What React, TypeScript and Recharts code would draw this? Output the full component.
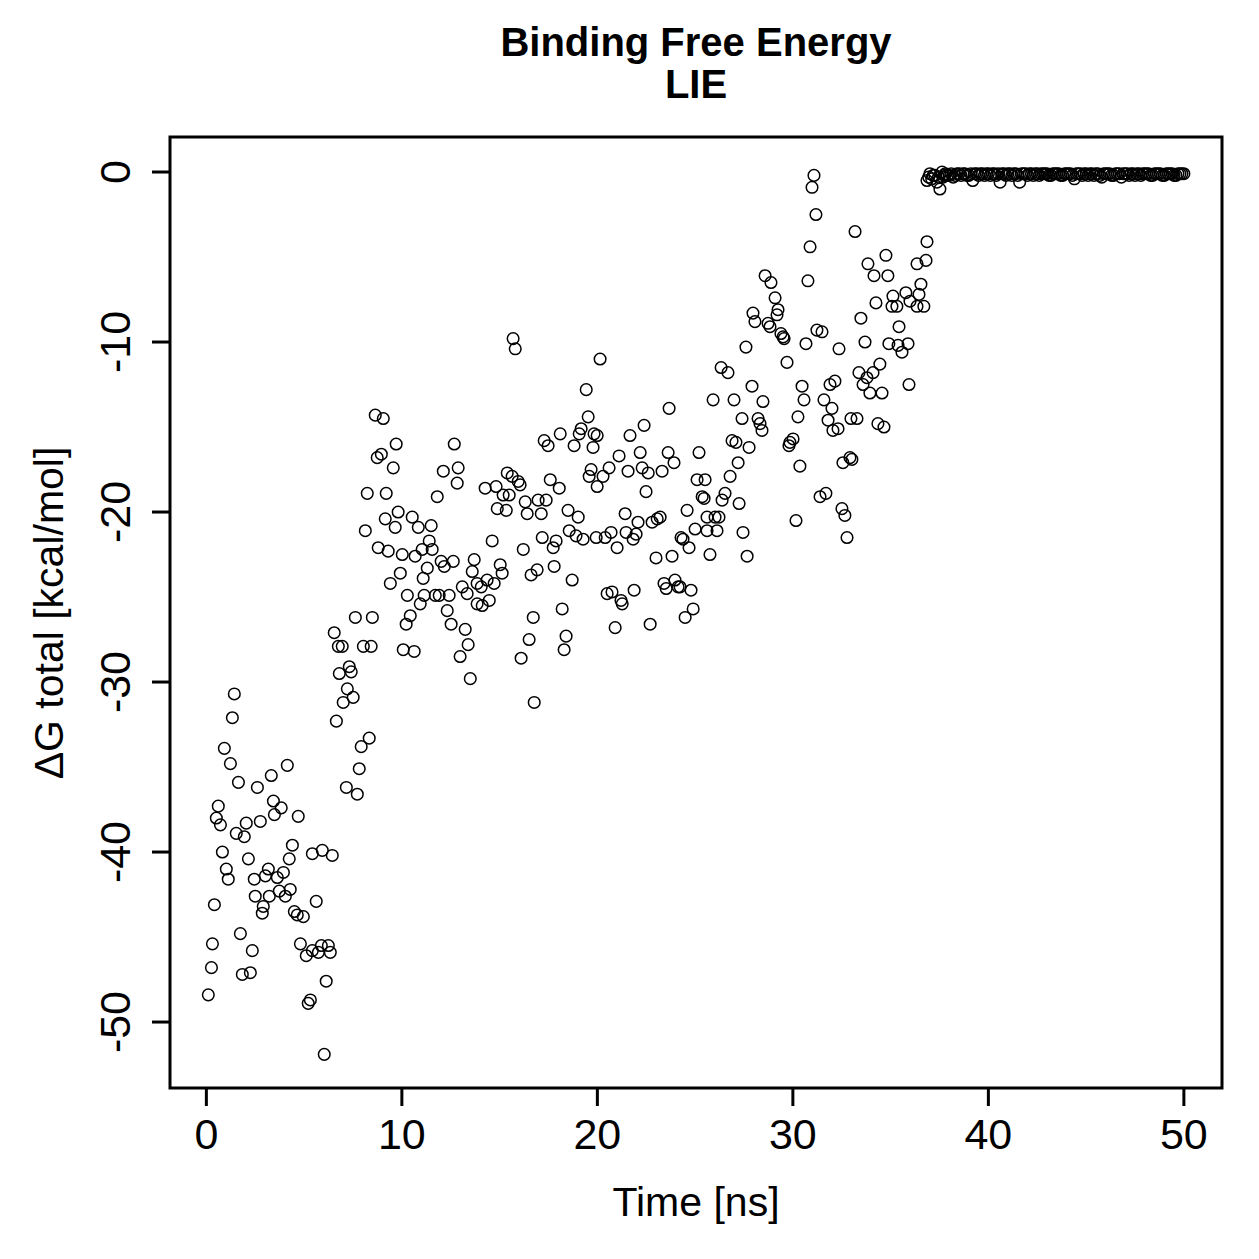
import { ReferenceArea, Scatter, ScatterChart, XAxis, YAxis } from "recharts";

const FONT = '"Liberation Sans", Arial, Helvetica, sans-serif';

const WIDTH = 1259;
const HEIGHT = 1259;

const X_TICKS = [0, 10, 20, 30, 40, 50];
const Y_TICKS = [0, -10, -20, -30, -40, -50];
// base-R style 4% padding around the data range
const X_DOMAIN: [number, number] = [-1.86, 51.95];
const Y_DOMAIN: [number, number] = [-53.88, 2.06];

// [time (ns), ΔG total (kcal/mol)]
const frames0to10: [number, number][] = [
  [1.43, -30.7], [1.33, -32.1], [0.92, -33.9], [1.23, -34.8], [1.64, -35.9], [2.61, -36.2],
  [3.32, -35.5], [4.14, -34.9], [0.61, -37.3], [3.43, -37.0], [3.83, -37.4], [3.48, -37.8],
  [4.7, -37.9], [0.51, -38.0], [0.72, -38.4], [2.04, -38.3], [2.76, -38.2], [1.53, -38.9],
  [1.94, -39.1], [0.82, -40.0], [2.15, -40.4], [4.4, -39.6], [4.24, -40.4], [5.42, -40.1],
  [5.93, -39.9], [6.44, -40.2], [1.02, -41.0], [1.12, -41.6], [3.17, -41.0], [3.02, -41.4],
  [2.45, -41.6], [3.63, -41.5], [3.94, -41.2], [3.73, -42.3], [4.29, -42.2], [2.5, -42.6],
  [3.22, -42.6], [4.04, -42.6], [2.91, -43.2], [2.86, -43.6], [0.41, -43.1], [5.62, -42.9],
  [4.5, -43.5], [4.65, -43.7], [4.96, -43.8], [1.74, -44.8], [0.31, -45.4], [2.35, -45.8],
  [4.81, -45.4], [5.11, -46.1], [5.42, -45.8], [5.73, -45.9], [5.88, -45.5], [6.24, -45.5],
  [6.34, -45.9], [0.26, -46.8], [1.84, -47.2], [2.25, -47.1], [6.13, -47.6], [0.1, -48.4],
  [5.21, -48.9], [5.32, -48.7], [6.03, -51.9], [7.31, -29.1], [7.41, -29.4], [6.8, -29.5],
  [7.21, -30.4], [7.51, -30.9], [7.0, -31.2], [6.65, -32.3], [8.33, -33.3], [7.92, -33.8],
  [7.82, -35.1], [7.16, -36.2], [7.72, -36.6], [8.64, -14.3], [9.05, -14.5], [8.95, -16.6],
  [8.74, -16.8], [8.23, -18.9], [9.2, -18.9], [9.15, -20.4], [8.13, -21.1], [8.79, -22.1],
  [9.3, -22.3], [9.41, -24.2], [7.62, -26.2], [8.49, -26.2], [6.54, -27.1], [6.75, -27.9],
  [6.95, -27.9], [8.03, -27.9], [8.43, -27.9], [9.71, -16.0], [9.56, -17.4], [9.81, -20.0],
  [9.66, -20.9], [9.92, -23.6],
];

const frames10to20: [number, number][] = [
  [15.69, -9.8], [15.8, -10.4], [19.43, -12.8], [19.53, -14.4], [18.1, -15.4], [19.17, -15.1],
  [19.07, -15.4], [19.83, -15.4], [19.99, -15.5], [17.28, -15.8], [17.48, -16.1], [18.81, -16.1],
  [19.78, -16.2], [12.68, -16.0], [12.88, -17.4], [12.12, -17.6], [12.83, -18.3], [19.68, -17.5],
  [19.58, -17.9], [19.99, -18.5], [11.81, -19.1], [15.39, -17.7], [15.64, -17.9], [15.95, -18.2],
  [16.05, -18.4], [17.59, -18.1], [18.05, -18.6], [14.26, -18.6], [14.82, -18.5], [15.18, -19.0],
  [15.49, -19.0], [16.31, -19.4], [16.97, -19.3], [17.38, -19.3], [14.88, -19.8], [15.34, -19.9],
  [16.41, -20.1], [17.13, -20.1], [18.5, -19.9], [19.02, -20.3], [10.53, -20.3], [10.84, -20.9],
  [11.5, -20.8], [18.56, -21.1], [18.91, -21.4], [19.27, -21.6], [19.94, -21.5], [17.18, -21.5],
  [17.89, -21.7], [17.74, -22.1], [16.21, -22.2], [14.62, -21.7], [11.4, -21.7], [11.04, -22.2],
  [11.55, -22.2], [10.02, -22.5], [10.68, -22.6], [13.7, -22.8], [12.01, -22.9], [12.17, -23.2],
  [12.63, -22.9], [11.3, -23.3], [15.03, -23.1], [15.13, -23.6], [13.6, -23.5], [16.92, -23.4],
  [16.61, -23.7], [17.79, -23.2], [18.71, -24.0], [11.09, -23.9], [14.36, -24.0], [14.72, -24.2],
  [13.85, -24.2], [14.06, -24.4], [13.09, -24.4], [13.34, -24.8], [14.47, -25.2], [13.85, -25.4],
  [14.11, -25.5], [10.28, -24.9], [11.14, -24.9], [10.94, -25.4], [11.71, -24.9], [11.91, -24.9],
  [12.42, -24.9], [10.43, -26.1], [10.22, -26.6], [12.32, -25.8], [12.52, -26.6], [13.24, -26.9],
  [13.39, -27.8], [12.98, -28.5], [10.07, -28.1], [10.63, -28.2], [13.5, -29.8], [16.72, -26.2],
  [16.51, -27.5], [16.1, -28.6], [18.2, -25.7], [18.4, -27.3], [18.3, -28.1], [16.77, -31.2],
];

const frames20to30: [number, number][] = [
  [20.14, -11.0], [23.67, -13.9], [22.39, -14.9], [21.67, -15.5], [21.11, -16.7], [22.19, -16.5],
  [23.62, -16.5], [25.2, -16.5], [23.92, -17.1], [20.6, -17.4], [20.29, -17.9], [21.57, -17.6],
  [22.29, -17.4], [22.6, -17.7], [23.31, -17.6], [25.1, -18.1], [22.49, -18.8], [21.42, -20.1],
  [24.59, -19.9], [22.08, -20.6], [22.8, -20.6], [23.06, -20.4], [23.21, -20.3], [20.7, -21.2],
  [20.4, -21.5], [21.47, -21.2], [21.98, -21.3], [21.83, -21.6], [21.01, -22.1], [24.28, -21.5],
  [24.38, -21.6], [24.69, -22.1], [25.0, -21.0], [23.0, -22.7], [23.82, -22.6], [20.5, -24.8],
  [20.75, -24.7], [21.27, -25.4], [21.21, -25.2], [21.88, -24.6], [23.41, -24.2], [23.52, -24.5],
  [23.97, -24.0], [24.13, -24.4], [24.23, -24.4], [24.79, -24.6], [24.9, -25.7], [24.49, -26.2],
  [20.91, -26.8], [22.7, -26.6], [25.76, -22.5], [27.66, -22.6], [28.58, -6.1], [28.88, -6.5],
  [29.09, -7.4], [29.24, -8.1], [29.19, -8.4], [27.96, -8.3], [28.06, -8.8], [28.73, -8.9],
  [28.83, -9.1], [29.39, -9.5], [29.5, -9.7], [29.55, -9.8], [27.6, -10.3], [29.7, -11.2],
  [26.33, -11.5], [26.68, -11.8], [27.91, -12.6], [25.92, -13.4], [26.99, -13.4], [28.47, -13.5],
  [28.22, -14.5], [28.32, -14.8], [28.42, -15.2], [27.4, -14.5], [26.89, -15.8], [27.09, -15.9],
  [27.76, -16.2], [29.85, -15.9], [29.8, -16.1], [27.2, -17.1], [26.79, -17.9], [27.25, -19.5],
  [27.45, -21.2], [26.53, -18.9], [26.38, -19.3], [25.51, -18.1], [25.36, -19.1], [25.46, -19.2],
  [25.61, -20.3], [26.02, -20.3], [26.22, -20.3], [25.61, -21.1], [26.12, -21.1],
];

const frames30to37: [number, number][] = [
  [31.08, -0.2], [30.98, -0.9], [31.18, -2.5], [33.18, -3.5], [30.88, -4.4], [36.86, -4.1],
  [34.76, -4.9], [33.84, -5.4], [36.35, -5.4], [36.81, -5.2], [34.15, -6.1], [34.86, -6.1],
  [30.77, -6.4], [30.67, -10.1], [31.23, -9.3], [31.49, -9.4], [32.36, -10.4], [33.48, -8.6],
  [34.25, -7.7], [35.12, -7.3], [35.78, -7.1], [36.55, -6.6], [36.45, -7.2], [35.99, -7.6],
  [36.35, -7.9], [36.7, -7.9], [35.07, -7.9], [35.32, -7.9], [35.43, -9.1], [33.69, -10.0],
  [34.91, -10.1], [35.38, -10.2], [35.89, -10.1], [35.58, -10.6], [34.45, -11.3], [34.1, -11.8],
  [33.38, -11.8], [33.79, -12.1], [33.59, -12.5], [33.94, -13.0], [34.56, -13.0], [35.94, -12.5],
  [30.47, -12.6], [30.57, -13.4], [31.9, -12.5], [32.15, -12.3], [31.59, -13.4], [32.0, -13.9],
  [31.8, -14.6], [32.05, -15.2], [32.31, -15.1], [30.26, -14.4], [32.97, -14.5], [33.28, -14.5],
  [34.35, -14.8], [34.66, -15.0], [30.01, -15.7], [30.36, -17.3], [32.56, -17.1], [32.92, -16.8],
  [33.02, -16.9], [31.39, -19.1], [31.69, -18.9], [32.51, -19.8], [32.66, -20.2], [30.16, -20.5],
  [32.77, -21.5],
];

// after ~37 ns the ligand has left the site and ΔG sits just below zero
const framesPlateau: [number, number][] = [
  [36.86, -0.5], [36.95, -0.3], [37.01, -0.1], [37.1, -0.4], [37.18, -0.2], [37.27, -0.2],
  [37.37, -0.6], [37.45, -0.3], [37.52, -1.0], [37.63, 0.0], [37.68, -0.3], [37.75, -0.2],
  [37.8, -0.1], [37.9, -0.2], [38.0, -0.2], [38.1, -0.1], [38.2, -0.3], [38.3, -0.2],
  [38.4, -0.1], [38.5, -0.1], [38.6, -0.2], [38.7, -0.1], [38.8, -0.1], [38.9, -0.2],
  [39.0, -0.2], [39.1, -0.1], [39.2, -0.5], [39.3, -0.1], [39.4, -0.1], [39.5, -0.2],
  [39.6, -0.1], [39.7, -0.1], [39.8, -0.2], [39.9, -0.1], [40.0, -0.1], [40.1, -0.2],
  [40.2, -0.1], [40.3, -0.1], [40.4, -0.2], [40.5, -0.1], [40.6, -0.6], [40.7, -0.1],
  [40.8, -0.1], [40.9, -0.2], [41.0, -0.1], [41.1, -0.1], [41.2, -0.2], [41.3, -0.1],
  [41.4, -0.1], [41.5, -0.2], [41.6, -0.6], [41.7, -0.1], [41.8, -0.1], [41.9, -0.1],
  [42.0, -0.2], [42.1, -0.1], [42.2, -0.1], [42.3, -0.2], [42.4, -0.1], [42.5, -0.1],
  [42.6, -0.2], [42.7, -0.1], [42.8, -0.1], [42.9, -0.1], [43.0, -0.1], [43.1, -0.2],
  [43.2, -0.2], [43.3, -0.1], [43.4, -0.1], [43.5, -0.1], [43.6, -0.1], [43.7, -0.2],
  [43.8, -0.2], [43.9, -0.1], [44.0, -0.1], [44.1, -0.1], [44.2, -0.1], [44.3, -0.2],
  [44.4, -0.4], [44.5, -0.1], [44.6, -0.1], [44.7, -0.1], [44.8, -0.2], [44.9, -0.1],
  [45.0, -0.1], [45.1, -0.2], [45.2, -0.1], [45.3, -0.1], [45.4, -0.2], [45.5, -0.1],
  [45.6, -0.1], [45.7, -0.2], [45.8, -0.3], [45.9, -0.1], [46.0, -0.1], [46.1, -0.1],
  [46.2, -0.1], [46.3, -0.2], [46.4, -0.2], [46.5, -0.1], [46.6, -0.1], [46.7, -0.1],
  [46.8, -0.3], [46.9, -0.1], [47.0, -0.1], [47.1, -0.1], [47.2, -0.2], [47.3, -0.1],
  [47.4, -0.1], [47.5, -0.2], [47.6, -0.1], [47.7, -0.1], [47.8, -0.2], [47.9, -0.1],
  [48.0, -0.1], [48.1, -0.1], [48.2, -0.1], [48.3, -0.2], [48.4, -0.2], [48.5, -0.1],
  [48.6, -0.1], [48.7, -0.1], [48.8, -0.1], [48.9, -0.2], [49.0, -0.2], [49.1, -0.1],
  [49.2, -0.1], [49.3, -0.1], [49.4, -0.1], [49.5, -0.2], [49.6, -0.2], [49.7, -0.1],
  [49.8, -0.1], [49.9, -0.1], [50.0, -0.1],
];

type Point = { t: number; dg: number };

const points: Point[] = [
  ...frames0to10,
  ...frames10to20,
  ...frames20to30,
  ...frames30to37,
  ...framesPlateau,
].map(([t, dg]) => ({ t, dg }));

function OpenCircle(props: any) {
  const { cx, cy } = props;
  if (cx == null || cy == null) return null;
  return <circle cx={cx} cy={cy} r={5.8} fill="none" stroke="#000" strokeWidth={1.5} />;
}

function XTick({ x, y, payload }: any) {
  return (
    <text x={x} y={y + 31} textAnchor="middle" fontSize={43} fontFamily={FONT} fill="#000">
      {payload.value}
    </text>
  );
}

// labels parallel to the axis, like base R (las = 0)
function YTick({ x, y, payload }: any) {
  return (
    <text
      x={x}
      y={y}
      transform={`rotate(-90, ${x}, ${y})`}
      textAnchor="middle"
      fontSize={43}
      fontFamily={FONT}
      fill="#000"
    >
      {payload.value}
    </text>
  );
}

export default function App() {
  return (
    <div
      style={{
        position: "absolute",
        left: 0,
        top: 0,
        width: WIDTH,
        height: HEIGHT,
        background: "#fff",
      }}
    >
      <ScatterChart
        width={WIDTH}
        height={HEIGHT}
        margin={{ top: 137, right: 37, bottom: 71, left: 70 }}
      >
        <XAxis
          type="number"
          dataKey="t"
          domain={X_DOMAIN}
          ticks={X_TICKS}
          allowDataOverflow
          height={100}
          axisLine={false}
          tickLine={{ stroke: "#000", strokeWidth: 3 }}
          tickSize={18}
          tickMargin={12}
          tick={<XTick />}
          interval={0}
        />
        <YAxis
          type="number"
          dataKey="dg"
          domain={Y_DOMAIN}
          ticks={Y_TICKS}
          allowDataOverflow
          width={100}
          axisLine={false}
          tickLine={{ stroke: "#000", strokeWidth: 3 }}
          tickSize={18}
          tickMargin={22}
          tick={<YTick />}
          interval={0}
        />
        <Scatter data={points} shape={<OpenCircle />} isAnimationActive={false} />
        <ReferenceArea
          x1={X_DOMAIN[0]}
          x2={X_DOMAIN[1]}
          y1={Y_DOMAIN[0]}
          y2={Y_DOMAIN[1]}
          fill="none"
          fillOpacity={0}
          stroke="#000"
          strokeWidth={3}
          ifOverflow="visible"
        />
      </ScatterChart>
      <svg
        width={WIDTH}
        height={HEIGHT}
        style={{ position: "absolute", left: 0, top: 0, pointerEvents: "none" }}
      >
        <g fontFamily={FONT} fill="#000">
          <text x={696} y={56} textAnchor="middle" fontSize={40} fontWeight="bold">
            Binding Free Energy
          </text>
          <text x={696} y={98} textAnchor="middle" fontSize={40} fontWeight="bold">
            LIE
          </text>
          <text x={696} y={1216} textAnchor="middle" fontSize={41}>
            Time [ns]
          </text>
          <text x={63} y={613} textAnchor="middle" fontSize={41} transform="rotate(-90, 63, 613)">
            ΔG total [kcal/mol]
          </text>
        </g>
      </svg>
    </div>
  );
}
